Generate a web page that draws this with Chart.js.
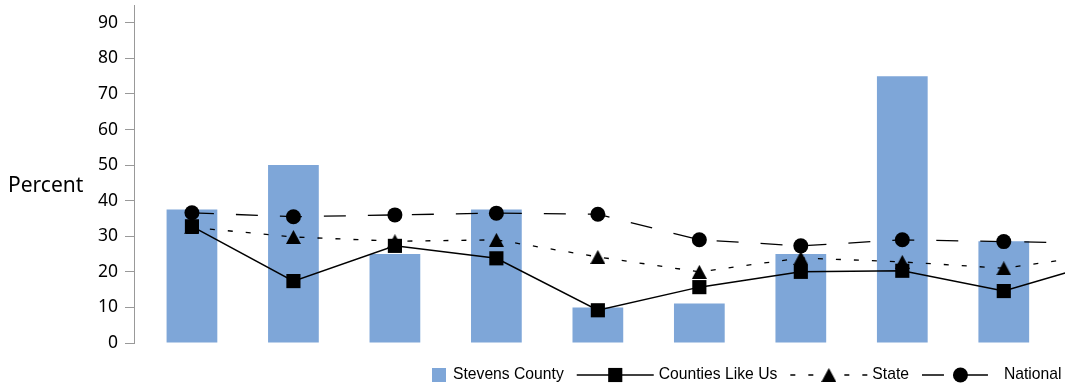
<!DOCTYPE html>
<html>
<head>
<meta charset="utf-8">
<script src="https://cdn.jsdelivr.net/npm/chart.js@4.4.1/dist/chart.umd.min.js"></script>
<style>
  html, body { margin: 0; padding: 0; background: #fff; overflow: hidden; width: 1065px; height: 386px; }
</style>
</head>
<body>
<canvas id="barChart" width="1156" height="386"></canvas>
<script>
// category positions (the 10th one sits past the right edge of the picture)
var positions = [0, 1, 2, 3, 4, 5, 6, 7, 8, 9];
var seriesNames = ["Stevens County", "Counties Like Us", "State", "National"];
var stevensCounty = [37.5, 50, 25, 37.5, 10, 11.1, 25, 75, 28.6];
var countiesLikeUs = [32.8, 17.4, 27.3, 23.8, 9.2, 15.7, 20.0, 20.3, 14.6, 23.0];
var stateValues = [32.5, 29.8, 28.6, 29.0, 24.2, 20.0, 23.9, 22.8, 21.0, 25.0];
var nationalValues = [36.6, 35.5, 36.0, 36.5, 36.2, 29.0, 27.3, 29.0, 28.5, 28.0];
var yTicks = [0, 10, 20, 30, 40, 50, 60, 70, 80, 90];

function toPoints(values) {
  return values.map(function (v, i) { return { x: positions[i], y: v }; });
}

// triangle marker centred on its box, like the original
function makeTriangle() {
  var c = document.createElement("canvas");
  c.width = 15; c.height = 14;
  var g = c.getContext("2d");
  g.fillStyle = "#000";
  g.beginPath();
  g.moveTo(7.5, 0); g.lineTo(15, 14); g.lineTo(0, 14); g.closePath();
  g.fill();
  return c;
}
var triangle = makeTriangle();

var percentLabel = {
  id: "percentLabel",
  afterDraw: function (chart) {
    var ctx = chart.ctx;
    ctx.save();
    ctx.font = '21px "Noto Sans", "Open Sans", sans-serif';
    ctx.fillStyle = "#000";
    ctx.textBaseline = "middle";
    ctx.textAlign = "left";
    ctx.fillText("Percent", 8, 186);
    ctx.restore();
  }
};

var bottomLegend = {
  id: "bottomLegend",
  afterDraw: function (chart) {
    var ctx = chart.ctx;
    var x = 432, y = 375;
    ctx.save();
    ctx.font = '15.7px "Liberation Sans", Arial, sans-serif';
    ctx.textBaseline = "middle";
    chart.data.datasets.forEach(function (ds) {
      if (ds.type === "bar") {
        ctx.fillStyle = ds.backgroundColor;
        ctx.fillRect(x, y - 7, 14, 14);
        x += 21;
      } else {
        ctx.strokeStyle = "#000";
        ctx.lineWidth = 1.5;
        ctx.setLineDash(ds.borderDash || []);
        ctx.beginPath();
        ctx.moveTo(x, y); ctx.lineTo(x + 77, y);
        ctx.stroke();
        ctx.setLineDash([]);
        ctx.fillStyle = "#000";
        Chart.helpers.drawPoint(ctx, {
          pointStyle: ds.pointStyle, radius: ds.pointRadius, rotation: 0, borderWidth: 0
        }, x + 38.5, y);
        x += 82;
      }
      ctx.fillStyle = "#000";
      ctx.fillText(ds.label, x, y);
      x += ctx.measureText(ds.label).width + 13;
    });
    ctx.restore();
  }
};

var ctxB = document.getElementById("barChart").getContext("2d");
var myChart = new Chart(ctxB, {
  type: "bar",
  data: {
    datasets: [
      {
        type: "bar",
        label: seriesNames[0],
        data: toPoints(stevensCounty),
        backgroundColor: "#7ea6d8",
        borderWidth: 0,
        barPercentage: 0.5,
        categoryPercentage: 1,
        order: 10
      },
      {
        type: "line",
        label: seriesNames[1],
        data: toPoints(countiesLikeUs),
        borderColor: "#000",
        borderWidth: 1.5,
        pointStyle: "rect",
        pointRadius: 10,
        pointBackgroundColor: "#000",
        pointBorderWidth: 0,
        order: 2
      },
      {
        type: "line",
        label: seriesNames[2],
        data: toPoints(stateValues),
        borderColor: "#000",
        borderWidth: 1.3,
        borderDash: [5, 13],
        pointStyle: triangle,
        pointRadius: 8,
        pointBackgroundColor: "#000",
        pointBorderWidth: 0,
        order: 1
      },
      {
        type: "line",
        label: seriesNames[3],
        data: toPoints(nationalValues),
        borderColor: "#000",
        borderWidth: 1.3,
        borderDash: [22, 22],
        pointStyle: "circle",
        pointRadius: 7.5,
        pointBackgroundColor: "#000",
        pointBorderWidth: 0,
        order: 0
      }
    ]
  },
  options: {
    responsive: false,
    animation: false,
    layout: { autoPadding: false, padding: { top: 5, bottom: 43, left: 0, right: 0 } },
    plugins: { legend: { display: false }, tooltip: { enabled: false } },
    scales: {
      x: {
        type: "linear",
        display: false,
        offset: false,
        min: -0.571,
        max: 9.5
      },
      y: {
        min: 0,
        max: 95,
        afterBuildTicks: function (axis) {
          axis.ticks = yTicks.map(function (v) { return { value: v }; });
        },
        afterFit: function (axis) {
          axis.width = 134;
          axis.paddingTop = 0;
          axis.paddingBottom = 0;
        },
        border: { display: true, color: "#999", width: 1 },
        grid: { drawOnChartArea: false, drawTicks: true, tickLength: 9, color: "#999" },
        ticks: {
          padding: 7,
          color: "#000",
          font: { family: "'Noto Sans', 'Open Sans', sans-serif", size: 17.5, lineHeight: 0.5 }
        }
      }
    }
  },
  plugins: [percentLabel, bottomLegend]
});
</script>
</body>
</html>
